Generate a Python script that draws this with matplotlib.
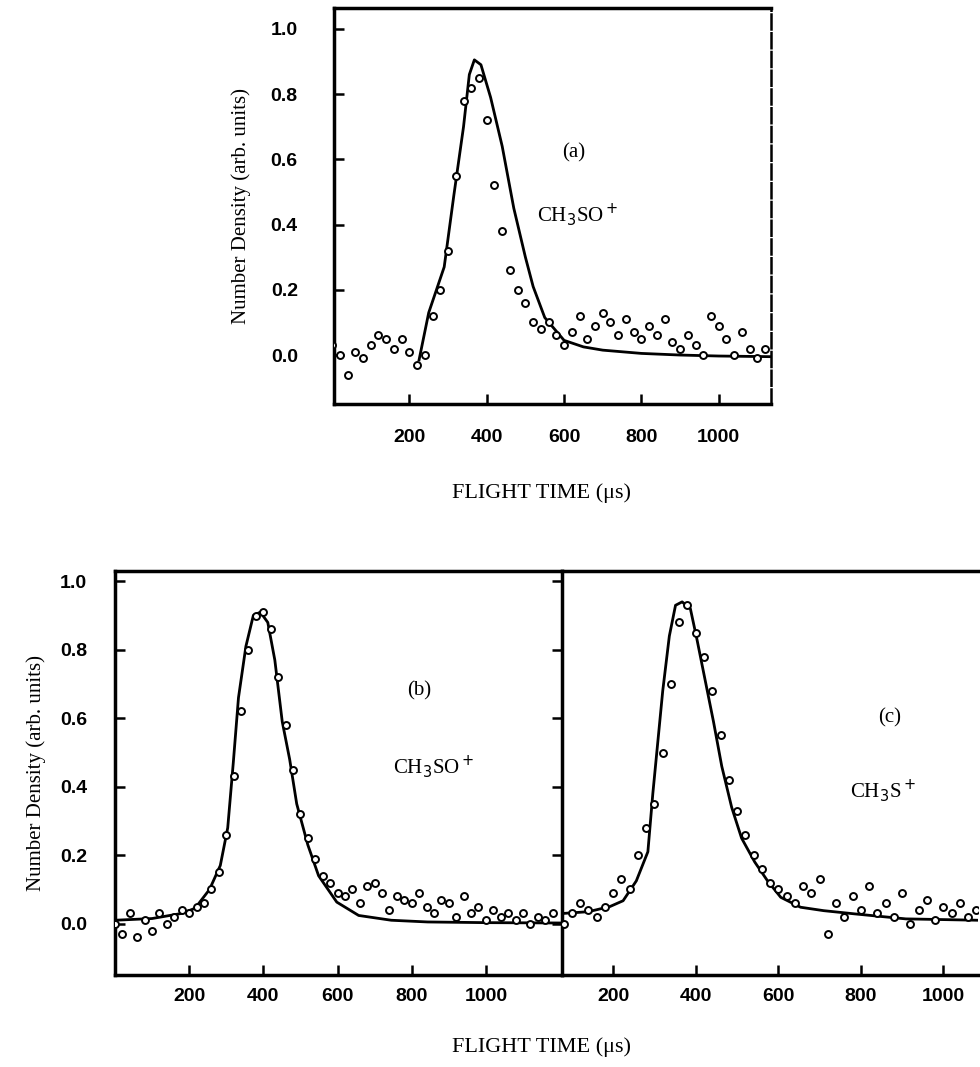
import matplotlib
matplotlib.use("Agg")
import matplotlib.pyplot as plt

# ---- panel (a): CH3SO+ ----
a_x = [0, 20, 40, 60, 80, 100, 120, 140, 160, 180, 200, 220, 240, 260, 280,
       300, 320, 340, 360, 380, 400, 420, 440, 460, 480, 500, 520, 540, 560,
       580, 600, 620, 640, 660, 680, 700, 720, 740, 760, 780, 800, 820, 840,
       860, 880, 900, 920, 940, 960, 980, 1000, 1020, 1040, 1060, 1080, 1100, 1120]
a_y = [0.03, 0.0, -0.06, 0.01, -0.01, 0.03, 0.06, 0.05, 0.02, 0.05, 0.01, -0.03,
       0.0, 0.12, 0.2, 0.32, 0.55, 0.78, 0.82, 0.85, 0.72, 0.52, 0.38, 0.26, 0.2,
       0.16, 0.1, 0.08, 0.1, 0.06, 0.03, 0.07, 0.12, 0.05, 0.09, 0.13, 0.1, 0.06,
       0.11, 0.07, 0.05, 0.09, 0.06, 0.11, 0.04, 0.02, 0.06, 0.03, 0.0, 0.12, 0.09,
       0.05, 0.0, 0.07, 0.02, -0.01, 0.02]
a_fit_x = [225, 250, 270, 290, 315, 340, 355, 368, 385, 410, 440, 470, 500,
           520, 550, 600, 650, 700, 800, 900, 1000, 1135]
a_fit_y = [-0.015, 0.13, 0.2, 0.27, 0.49, 0.70, 0.86, 0.905, 0.89, 0.79, 0.64,
           0.45, 0.30, 0.21, 0.115, 0.045, 0.025, 0.015, 0.005, 0.0, -0.003, -0.005]

# ---- panel (b): CH3SO+ ----
b_x = [0, 20, 40, 60, 80, 100, 120, 140, 160, 180, 200, 220, 240, 260, 280,
       300, 320, 340, 360, 380, 400, 420, 440, 460, 480, 500, 520, 540, 560,
       580, 600, 620, 640, 660, 680, 700, 720, 740, 760, 780, 800, 820, 840,
       860, 880, 900, 920, 940, 960, 980, 1000, 1020, 1040, 1060, 1080, 1100,
       1120, 1140, 1160, 1180]
b_y = [0.0, -0.03, 0.03, -0.04, 0.01, -0.02, 0.03, 0.0, 0.02, 0.04, 0.03, 0.05,
       0.06, 0.1, 0.15, 0.26, 0.43, 0.62, 0.8, 0.9, 0.91, 0.86, 0.72, 0.58, 0.45,
       0.32, 0.25, 0.19, 0.14, 0.12, 0.09, 0.08, 0.1, 0.06, 0.11, 0.12, 0.09, 0.04,
       0.08, 0.07, 0.06, 0.09, 0.05, 0.03, 0.07, 0.06, 0.02, 0.08, 0.03, 0.05, 0.01,
       0.04, 0.02, 0.03, 0.01, 0.03, 0.0, 0.02, 0.01, 0.03]
b_fit_x = [0, 100, 180, 216, 255, 284, 304, 319, 333, 353, 373, 392, 412, 431,
           451, 471, 490, 520, 549, 598, 657, 745, 843, 1000, 1200]
b_fit_y = [0.01, 0.015, 0.03, 0.045, 0.10, 0.17, 0.28, 0.47, 0.66, 0.81, 0.90,
           0.91, 0.88, 0.77, 0.59, 0.48, 0.35, 0.23, 0.14, 0.063, 0.024, 0.01,
           0.005, 0.003, 0.002]

# ---- panel (c): CH3S+ ----
c_x = [80, 100, 120, 140, 160, 180, 200, 220, 240, 260, 280, 300, 320, 340,
       360, 380, 400, 420, 440, 460, 480, 500, 520, 540, 560, 580, 600, 620,
       640, 660, 680, 700, 720, 740, 760, 780, 800, 820, 840, 860, 880, 900,
       920, 940, 960, 980, 1000, 1020, 1040, 1060, 1080]
c_y = [0.0, 0.03, 0.06, 0.04, 0.02, 0.05, 0.09, 0.13, 0.1, 0.2, 0.28, 0.35, 0.5,
       0.7, 0.88, 0.93, 0.85, 0.78, 0.68, 0.55, 0.42, 0.33, 0.26, 0.2, 0.16, 0.12,
       0.1, 0.08, 0.06, 0.11, 0.09, 0.13, -0.03, 0.06, 0.02, 0.08, 0.04, 0.11,
       0.03, 0.06, 0.02, 0.09, 0.0, 0.04, 0.07, 0.01, 0.05, 0.03, 0.06, 0.02, 0.04]
c_fit_x = [80, 140, 192, 224, 256, 284, 296, 308, 320, 336, 351, 367, 387, 403,
           423, 443, 463, 487, 511, 543, 574, 606, 654, 710, 790, 909, 1084]
c_fit_y = [0.03, 0.035, 0.05, 0.067, 0.125, 0.21, 0.38, 0.53, 0.68, 0.84, 0.93,
           0.94, 0.92, 0.83, 0.71, 0.59, 0.46, 0.34, 0.25, 0.18, 0.125, 0.077,
           0.048, 0.038, 0.028, 0.014, 0.01]

x_ticks = [200, 400, 600, 800, 1000]
y_ticks = [0.0, 0.2, 0.4, 0.6, 0.8, 1.0]
y_label = "Number Density (arb. units)"
x_label = "FLIGHT TIME (\u03bcs)"

plt.rcParams['font.family'] = ['Liberation Serif', 'DejaVu Serif']

fig = plt.figure(figsize=(9.8, 10.67), dpi=100)

ax_a = fig.add_axes([0.3408, 0.6214, 0.4459, 0.3711])
ax_b = fig.add_axes([0.1173, 0.0862, 0.4561, 0.3786])
ax_c = fig.add_axes([0.5735, 0.0862, 0.4245, 0.3786])


def draw_panel(ax, x, y, fx, fy):
    ax.plot(fx, fy, color='black', lw=2.0, zorder=2)
    ax.plot(x, y, linestyle='none', marker='o', ms=5, mfc='white',
            mec='black', mew=1.4, zorder=3)
    ax.set_xticks(x_ticks)
    ax.set_yticks(y_ticks)
    ax.tick_params(direction='in', length=7, width=1.8, labelsize=14)
    for s in ax.spines.values():
        s.set_linewidth(2.5)
    for lab in ax.get_xticklabels() + ax.get_yticklabels():
        lab.set_family(['Liberation Sans', 'DejaVu Sans'])
        lab.set_fontweight('bold')


draw_panel(ax_a, a_x, a_y, a_fit_x, a_fit_y)
ax_a.set_xlim(5, 1135)
ax_a.set_ylim(-0.15, 1.064)
ax_a.set_yticklabels(['%.1f' % v for v in y_ticks])
ax_a.tick_params(axis='y', pad=26)
ax_a.tick_params(axis='x', pad=18)
ax_a.spines['right'].set_linestyle((0, (6, 1.5)))
ax_a.spines['right'].set_linewidth(1.8)
ax_a.text(625, 0.62, "(a)", fontsize=15, ha='center', va='center')
ax_a.text(635, 0.43, r"CH$_3$SO$^+$", fontsize=15, ha='center', va='center')
ax_a.set_ylabel(y_label, fontsize=15, labelpad=14)

draw_panel(ax_b, b_x, b_y, b_fit_x, b_fit_y)
ax_b.set_xlim(0, 1205)
ax_b.set_ylim(-0.15, 1.03)
ax_b.set_yticklabels(['%.1f' % v for v in y_ticks])
ax_b.tick_params(axis='y', pad=20, right=True)
ax_b.tick_params(axis='x', pad=9)
ax_b.spines['right'].set_visible(False)
ax_b.text(820, 0.68, "(b)", fontsize=15, ha='center', va='center')
ax_b.text(860, 0.46, r"CH$_3$SO$^+$", fontsize=15, ha='center', va='center')
ax_b.set_ylabel(y_label, fontsize=15, labelpad=10)

draw_panel(ax_c, c_x, c_y, c_fit_x, c_fit_y)
ax_c.set_xlim(76, 1084)
ax_c.set_ylim(-0.15, 1.03)
ax_c.tick_params(axis='y', left=False, labelleft=False)
ax_c.tick_params(axis='x', pad=9)
ax_c.spines['right'].set_visible(False)
ax_c.text(870, 0.6, "(c)", fontsize=15, ha='center', va='center')
ax_c.text(855, 0.39, r"CH$_3$S$^+$", fontsize=15, ha='center', va='center')

fig.text(0.553, 1 - 493 / 1067, x_label, fontsize=16, ha='center', va='center')
fig.text(0.553, 1 - 1047 / 1067, x_label, fontsize=16, ha='center', va='center')

fig.savefig("out.png", dpi=100)
